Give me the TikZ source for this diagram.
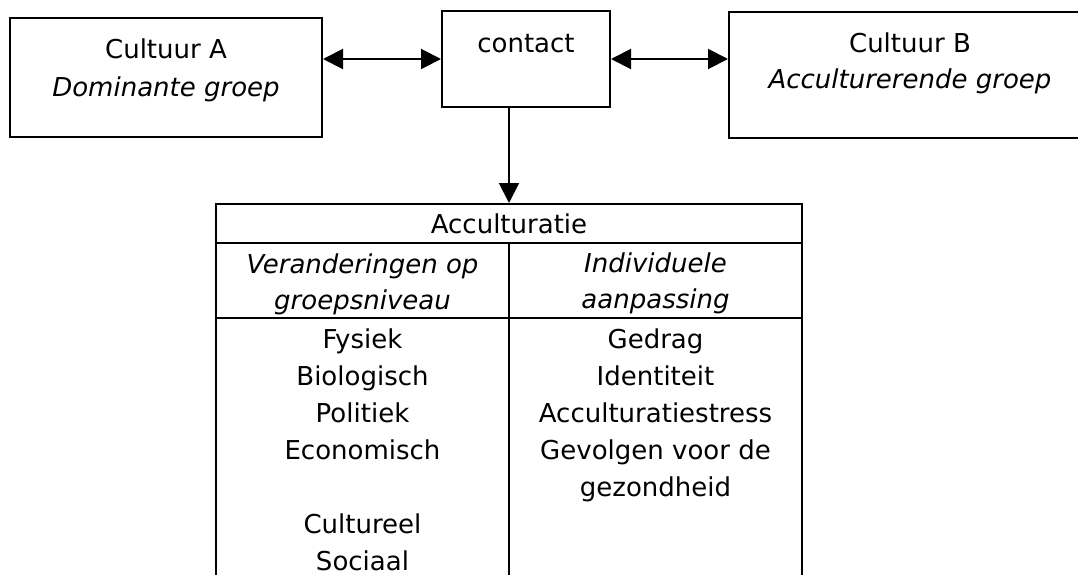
\documentclass[tikz,border=0pt]{standalone}
\usepackage{fontspec}
\setmainfont{DejaVu Sans}
\usetikzlibrary{arrows.meta,positioning}

\tikzset{
	box/.style={draw,line width=1pt,inner sep=0pt},
	txt/.style={inner sep=0pt,anchor=base,font=\fontsize{13}{18}\selectfont},
	link/.style={line width=1pt,{Triangle[length=10pt,width=10pt]}-{Triangle[length=10pt,width=10pt]}},
	down/.style={line width=1pt,-{Triangle[length=10pt,width=10pt]}}
}

\begin{document}
\begin{tikzpicture}[x=0.5pt,y=-0.5pt]
	\useasboundingbox (0,0) rectangle (1078,574);
	\node[box,minimum width=156pt,minimum height=59.5pt] (cultA) at (166,77.5) {};
	\node[box,minimum width=84pt,minimum height=48pt] (contact) at (526,59) {};
	\node[box,minimum width=181.5pt,minimum height=63pt] (cultB) at (910.5,75) {};
	\node[box,minimum width=293pt,minimum height=19.5pt] (hdr) at (509,223.5) {};
	\node[box,minimum width=146.5pt,minimum height=37.5pt] (kopL) at (362.5,280.5) {};
	\node[box,minimum width=146.5pt,minimum height=37.5pt] (kopR) at (655.5,280.5) {};
	\node[box,minimum width=146.5pt,minimum height=141pt] (colL) at (362.5,459) {};
	\node[box,minimum width=146.5pt,minimum height=141pt] (colR) at (655.5,459) {};
	\node[txt] (tA1) at (166,58) {Cultuur A};
	\node[txt] (tA2) at (166,96) {\itshape Dominante groep};
	\node[txt] (tC) at (526,52) {contact};
	\node[txt] (tB1) at (910,52) {Cultuur B};
	\node[txt] (tB2) at (910,88) {\itshape Acculturerende groep};
	\node[txt] (tH) at (509,233) {Acculturatie};
	\node[txt] (tL1) at (362.5,273) {\itshape Veranderingen op};
	\node[txt] (tL2) at (362.5,309) {\itshape groepsniveau};
	\node[txt] (tR1) at (655.5,272) {\itshape Individuele};
	\node[txt] (tR2) at (655.5,308) {\itshape aanpassing};
	\foreach \w [count=\i] in {Fysiek,Biologisch,Politiek,Economisch,{},Cultureel,Sociaal}
		\node[txt] (l\i) at (362.5,{348+37*(\i-1)}) {\w};
	\foreach \w [count=\i] in {Gedrag,Identiteit,Acculturatiestress,Gevolgen voor de,gezondheid}
		\node[txt] (r\i) at (655.5,{348+37*(\i-1)}) {\w};
	\draw[link] (cultA.east |- contact.west) -- (contact.west);
	\draw[link] (contact.east) -- (contact.east -| cultB.west);
	\draw[down] (contact.south -| hdr.north) -- (hdr.north);
\end{tikzpicture}
\end{document}
